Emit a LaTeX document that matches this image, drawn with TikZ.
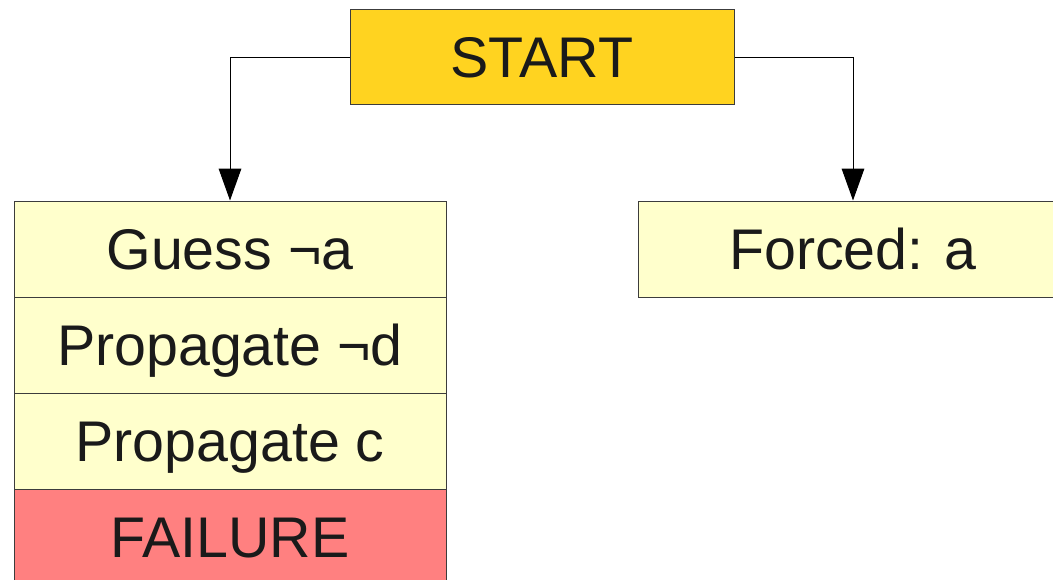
\documentclass[tikz,border=0pt]{standalone}
\usepackage{fontspec}
\setmainfont{Liberation Sans}
\usepackage{tikz}
\usetikzlibrary{positioning,arrows.meta}
\definecolor{sstartfill}{HTML}{FFD320}
\definecolor{sstepfill}{HTML}{FFFFCC}
\definecolor{sfailfill}{HTML}{FF8080}
\definecolor{sboxline}{HTML}{3C3C3C}
\definecolor{stext}{HTML}{1A1A1A}
\tikzset{sbox/.style={rectangle, draw=sboxline, fill=sstepfill, line width=0.75pt, minimum width=324pt, minimum height=72pt, inner sep=0pt, text height=31pt, text depth=0pt, text=stext, font=\fontsize{43}{50}\selectfont}}
\tikzset{sstart/.style={sbox, fill=sstartfill, minimum width=288pt, minimum height=71.25pt}}
\tikzset{sfail/.style={sbox, fill=sfailfill}}
\tikzset{sedge/.style={-{Triangle[length=24pt, width=17pt]}, draw=black, line width=0.75pt}}

\begin{document}
\begin{tikzpicture}[x=0.75pt, y=-0.75pt]
  \useasboundingbox (0,0) rectangle (1053,579);
  \node[sstart] (start) at (542,57) {START};

  \node[sbox] (guess) at (230,249) {Guess ¬a};
  \node[sbox] (propd) at (230,345) {Propagate ¬d};
  \node[sbox] (propc) at (230,441) {Propagate c};
  \node[sfail] (failure) at (230,537) {FAILURE};

  \node[sbox, minimum width=322.5pt] (forced) at (853,249) {Forced: a};

  \draw[sedge] (start.west) -| (guess.north);
  \draw[sedge] (start.east) -| (forced.north);
\end{tikzpicture}
\end{document}
